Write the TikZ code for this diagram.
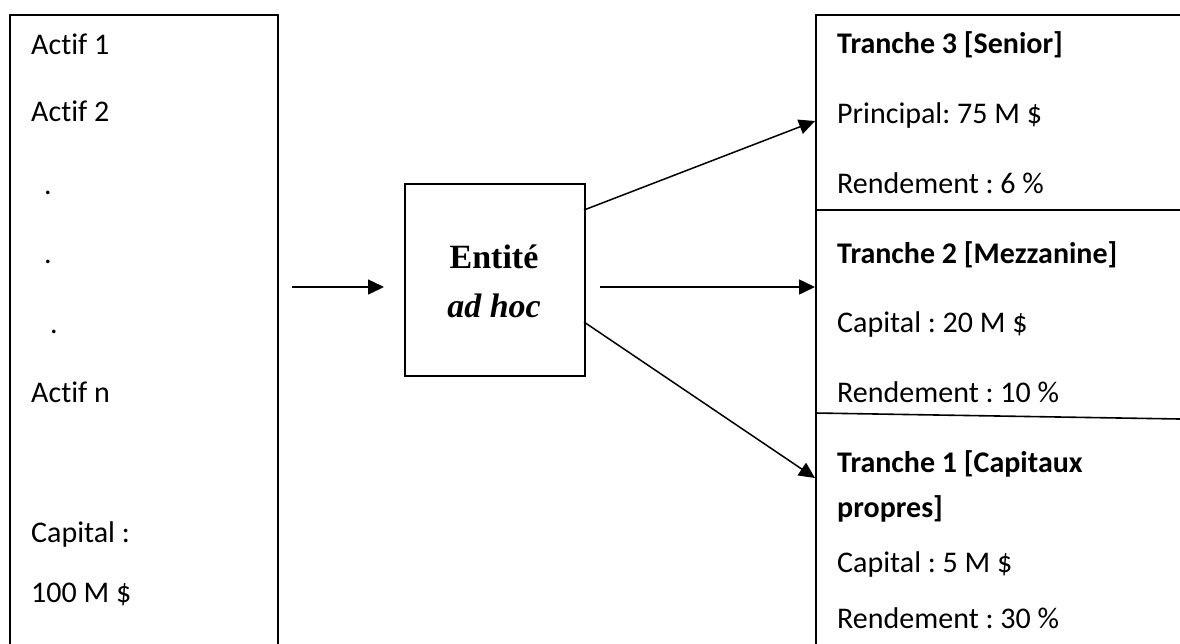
\documentclass[tikz,border=0pt]{standalone}
\usepackage{fontspec}
\setmainfont{Carlito}[Ligatures=NoCommon]
\newfontfamily\timesfont{Liberation Serif}
\usetikzlibrary{arrows.meta}
\frenchspacing

\tikzset{
  boite/.style={draw, line width=1.6pt, rectangle, inner sep=0pt},
  ligne/.style={anchor=base west, inner sep=0pt, font=\fontsize{30}{36}\selectfont},
  titre/.style={ligne, font=\fontsize{30}{36}\selectfont\bfseries},
  fleche/.style={line width=1.5pt, -{Triangle[length=16pt,width=15pt]}}
}

\begin{document}
\begin{tikzpicture}[x=1pt,y=-1pt]
\clip (0,0) rectangle (1180,643);
\fill[white] (0,0) rectangle (1180,643);

% actifs
\node[boite, anchor=north west, minimum width=268pt, minimum height=700pt] (actifs) at (9,14) {};
\node[ligne] (actif1) at (31,54) {Actif 1};
\node[ligne] (actif2) at (31,121) {Actif 2};
\node[ligne] (pt1) at (44,194) {.};
\node[ligne] (pt2) at (44,263) {.};
\node[ligne] (pt3) at (50,333) {.};
\node[ligne] (actifn) at (31,402) {Actif n};
\node[ligne] (cap) at (31,542) {Capital :};
\node[ligne] (capval) at (31,602) {100 M \$};

% entite ad hoc
\node[boite, anchor=north west, minimum width=180pt, minimum height=192pt] (spv) at (404,183) {};
\node[anchor=base, inner sep=0pt, font=\timesfont\fontsize{34}{40}\selectfont\bfseries] (spv1) at (494,268) {Entité};
\node[anchor=base, inner sep=0pt, font=\timesfont\fontsize{34}{40}\selectfont\bfseries\itshape] (spv2) at (494,317) {ad hoc};

% tranches
\node[boite, anchor=north west, minimum width=500pt, minimum height=700pt] (tranches) at (815,14) {};
\draw[line width=1.6pt] (815,210) -- (1180,210);
\draw[line width=1.6pt] (815,413) -- (1180,419);

\node[titre] (t3) at (837,53) {Tranche 3 [Senior]};
\node[ligne] (t3a) at (837,123) {Principal: 75 M \$};
\node[ligne] (t3b) at (837,193) {Rendement : 6 \%};
\node[titre] (t2) at (837,263) {Tranche 2 [Mezzanine]};
\node[ligne] (t2a) at (837,332) {Capital : 20 M \$};
\node[ligne] (t2b) at (837,402) {Rendement : 10 \%};
\node[titre] (t1) at (837,472) {Tranche 1 [Capitaux};
\node[titre] (t1x) at (837,517) {propres]};
\node[ligne] (t1a) at (837,572) {Capital : 5 M \$};
\node[ligne] (t1b) at (837,628) {Rendement : 30 \%};

% fleches
\coordinate (in1) at (292,287);
\coordinate (in2) at (384,287);
\coordinate (out0) at (600,287);
\coordinate (out1) at (584,210);
\coordinate (out3) at (584,322);
\coordinate (e3) at (815,121);
\coordinate (e2) at (815,287);
\coordinate (e1) at (815,478);
\draw[fleche] (in1) -- (in2);
\draw[fleche] (out0) -- (e2);
\draw[fleche] (out1) -- (e3);
\draw[fleche] (out3) -- (e1);

\end{tikzpicture}
\end{document}
